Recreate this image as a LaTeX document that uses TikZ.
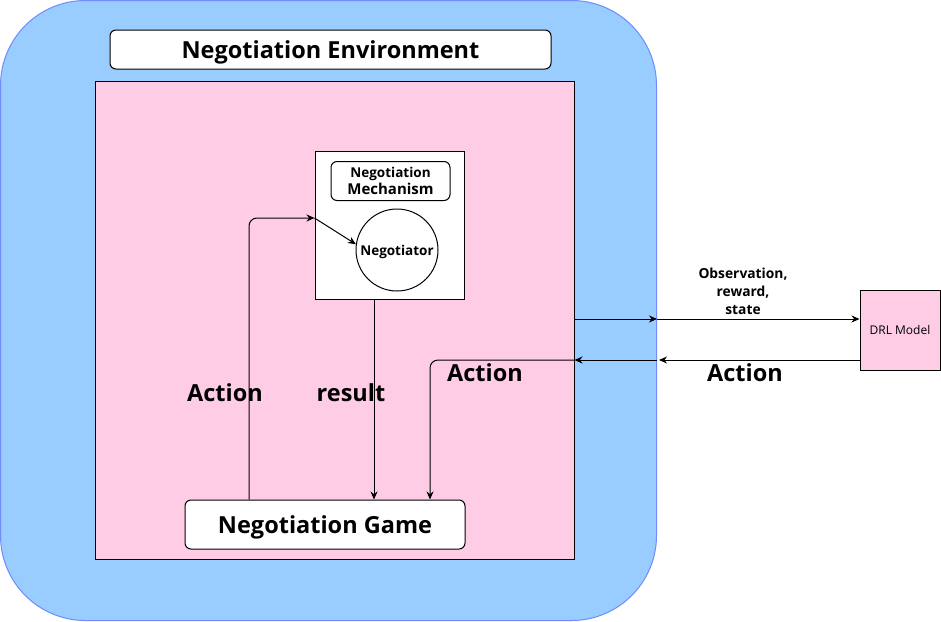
\documentclass[tikz,border=0pt]{standalone}
\usepackage{fontspec}
\setmainfont{Open Sans}
\usepackage{tikz}
\usetikzlibrary{arrows.meta,positioning,calc}
\definecolor{envBlue}{RGB}{153,204,255}
\definecolor{envEdge}{RGB}{110,140,250}
\definecolor{gamePink}{RGB}{255,204,230}

\begin{document}
\begin{tikzpicture}[x=1pt,y=-1pt,
  envbox/.style={draw=envEdge,fill=envBlue,rounded corners=85pt,line width=1pt,inner sep=0pt},
  arena/.style={draw=black,fill=gamePink,line width=1pt,inner sep=0pt},
  whitebox/.style={draw=black,fill=white,line width=1pt,inner sep=0pt,align=center},
  titlebox/.style={whitebox,rounded corners=6pt,text depth=0pt,font=\fontsize{23.5}{28}\selectfont\bfseries},
  agent/.style={draw=black,fill=gamePink,line width=1pt,inner sep=0pt,
                minimum width=80pt,minimum height=80pt,font=\fontsize{12}{14}\selectfont},
  flow/.style={draw=black,line width=1pt,-{Stealth[length=8pt,width=7pt]}},
  biglabel/.style={font=\fontsize{23.5}{28}\selectfont\bfseries,inner sep=0pt},
  smalllabel/.style={font=\fontsize{13.8}{18}\selectfont\bfseries,align=center,inner sep=0pt},
]
\useasboundingbox (0,0) rectangle (941,621);
\node[envbox,minimum width=656pt,minimum height=620pt] (env) at (328.5,310.5) {};
\node[titlebox,minimum width=441pt,minimum height=39pt] (envtitle) at (330.5,49.5) {Negotiation Environment};
\node[arena,minimum width=479pt,minimum height=478pt] (arena) at (334.5,320) {};
\node[whitebox,minimum width=149pt,minimum height=148pt] (mech) at (389.5,225) {};
\node[whitebox,rounded corners=6pt,minimum width=119pt,minimum height=39pt,
      font=\bfseries] (mechtitle) at (390.5,181)
      {\fontsize{13.5}{17}\selectfont Negotiation\\[1pt]\fontsize{15}{18}\selectfont Mechanism};
\node[whitebox,circle,minimum size=82pt,font=\fontsize{13.5}{16}\selectfont\bfseries,text depth=0pt] (negotiator) at (397,250) {Negotiator};
\node[titlebox,minimum width=280pt,minimum height=49pt] (game) at (325,524.5) {Negotiation Game};
\node[agent] (drl) at (900,330) {DRL Model};
\coordinate (obsgate) at (657,319);
\coordinate (actgate) at (659,360);
\coordinate (actturn) at (430,360);

\draw[flow,rounded corners=8pt] ([xshift=-76pt]game.north) |- ([yshift=7pt]mech.west);
\draw[flow] ([yshift=7pt]mech.west) -- (negotiator.172);
\draw[flow] ([xshift=-15.5pt]mech.south) -- ([xshift=-15.5pt]mech.south |- game.north);
\draw[flow] (arena.east |- obsgate) -- (obsgate);
\draw[flow] (obsgate) -- (drl.west |- obsgate);
\draw[flow] (drl.west |- actgate) -- (actgate);
\draw[flow] (env.east |- actgate) -- (arena.east |- actgate);
\draw[flow,rounded corners=8pt] (arena.east |- actturn) -- (actturn) -- (actturn |- game.north);

\node[biglabel] (actionloop) at (225,393) {Action};
\node[biglabel] (resultlbl) at (351,393) {result};
\node[biglabel] (actioninner) at (485,373) {Action};
\node[biglabel] (actionouter) at (745,373) {Action};
\node[smalllabel] (obslbl) at (743,291) {Observation,\\reward,\\state};
\end{tikzpicture}
\end{document}
